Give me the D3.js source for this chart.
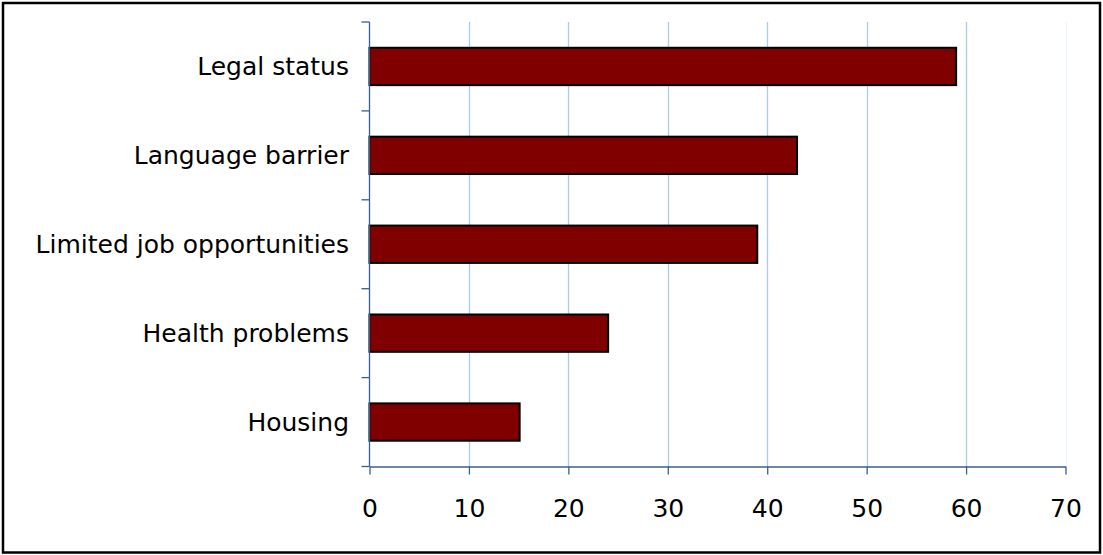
<!DOCTYPE html>
<html>
<head>
<meta charset="utf-8">
<script src="https://cdn.jsdelivr.net/npm/d3@7"></script>
<style>
  html, body { margin: 0; padding: 0; background: #ffffff; }
  svg { display: block; }
  text { font-family: "DejaVu Sans", sans-serif; fill: #000; }
</style>
</head>
<body>
<div id="chart"></div>
<script>
const categories = ["Legal status", "Language barrier", "Limited job opportunities", "Health problems", "Housing"];
const values = [59, 43, 39, 24, 15.1];
const xTicks = [0, 10, 20, 30, 40, 50, 60, 70];

const W = 1103, H = 555;
const plot = { left: 369.5, right: 1065.5, top: 22, bottom: 466.5 };
const fontSize = 25;

const svg = d3.select("#chart").append("svg").attr("width", W).attr("height", H);

// outer border
svg.append("rect")
  .attr("x", 3).attr("y", 3).attr("width", 1097).attr("height", 549.5)
  .attr("fill", "#fff").attr("stroke", "#000").attr("stroke-width", 2.5);

const x = d3.scaleLinear().domain([0, 70]).range([plot.left, plot.right]);
const y = d3.scaleBand().domain(categories).range([plot.top, plot.bottom])
  .paddingInner(0.58).paddingOuter(0.29);

// gridlines
svg.append("g").selectAll("line").data(xTicks.filter(d => d > 0)).join("line")
  .attr("x1", d => Math.round(x(d)) + 0.5).attr("x2", d => Math.round(x(d)) + 0.5)
  .attr("y1", plot.top).attr("y2", plot.bottom)
  .attr("stroke", d => d === 70 ? "#eef4fd" : "#a9cbf2").attr("stroke-width", 1.3);

// bars
svg.append("g").selectAll("rect").data(categories).join("rect")
  .attr("x", x(0)).attr("y", d => y(d))
  .attr("width", (d, i) => x(values[i]) - x(0))
  .attr("height", y.bandwidth())
  .attr("fill", "#800000").attr("stroke", "#000").attr("stroke-width", 2);

const axisColor = "#3a5f8c";

// x axis
const xAxis = svg.append("g").attr("transform", `translate(0,${plot.bottom})`)
  .call(d3.axisBottom(x).tickValues(xTicks).tickSize(8).tickSizeOuter(0).tickPadding(25));
xAxis.select(".domain").attr("stroke", axisColor).attr("stroke-width", 1.3);
xAxis.selectAll(".tick line").attr("stroke", axisColor).attr("stroke-width", 1.3);
xAxis.selectAll(".tick text").attr("font-size", fontSize).attr("font-family", "DejaVu Sans").attr("fill", "#000");

// y axis line
const yAxis = svg.append("g");
yAxis.append("line")
  .attr("x1", plot.left).attr("x2", plot.left)
  .attr("y1", plot.top).attr("y2", plot.bottom)
  .attr("stroke", axisColor).attr("stroke-width", 1.3);
// ticks at band boundaries
const boundaries = categories.map(c => y(c) - y.step() * y.paddingInner() / 2).concat([plot.bottom]);
yAxis.selectAll("line.tk").data(boundaries).join("line").attr("class", "tk")
  .attr("x1", plot.left - 8).attr("x2", plot.left)
  .attr("y1", d => d).attr("y2", d => d)
  .attr("stroke", axisColor).attr("stroke-width", 1.3);
// category labels
yAxis.selectAll("text").data(categories).join("text")
  .attr("x", 349).attr("y", d => y(d) + y.bandwidth() / 2)
  .attr("dy", "0.36em").attr("text-anchor", "end")
  .attr("font-size", fontSize)
  .text(d => d);
</script>
</body>
</html>
